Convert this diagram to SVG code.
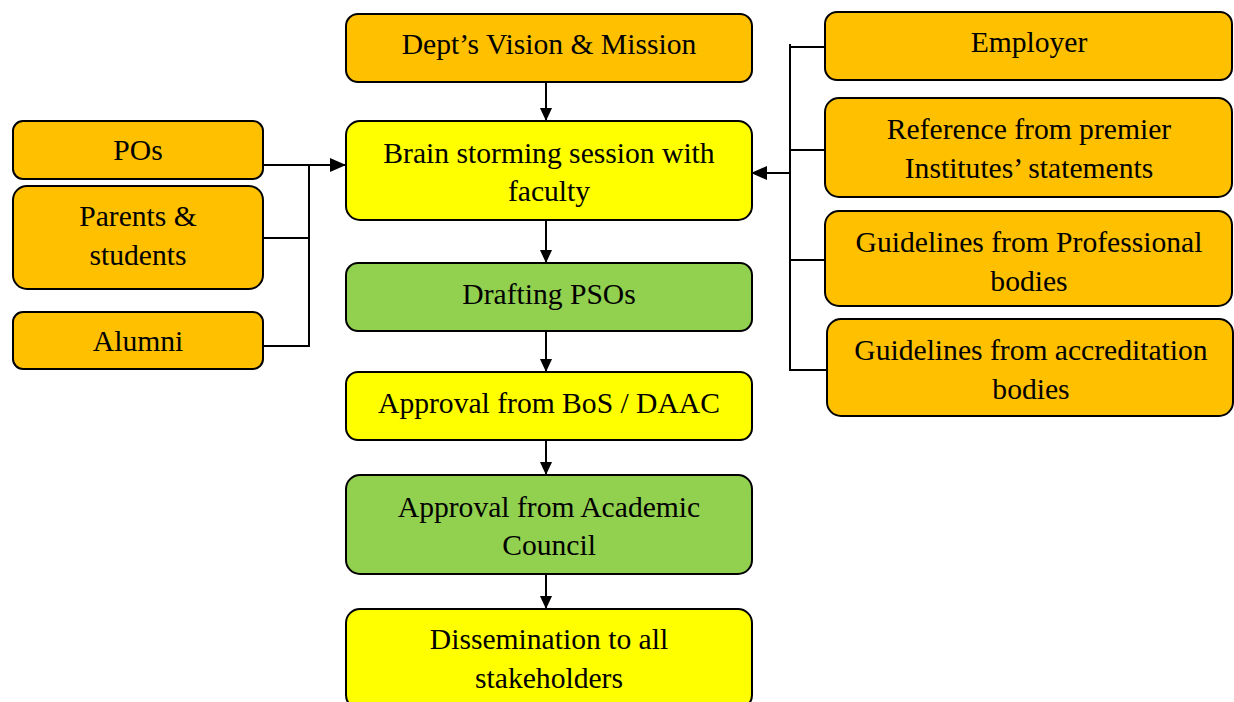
<svg xmlns="http://www.w3.org/2000/svg" width="1234" height="702" viewBox="0 0 1234 702">
<defs>
<style>
.box{stroke:#000;stroke-width:2}
.o{fill:#FFC000}.y{fill:#FFFF00}.g{fill:#92D050}
text{font-family:"Liberation Serif","Times New Roman",serif;font-size:29.6px;fill:#000;text-anchor:middle}
.ln{stroke:#000;stroke-width:2;fill:none}
</style>
<marker id="ah" markerWidth="13" markerHeight="14" refX="14" refY="6.5" orient="auto" markerUnits="userSpaceOnUse" viewBox="0 0 14 13"><path d="M0,0 L14,6.5 L0,13 z" fill="#000"/></marker>
<marker id="ah2" markerWidth="16" markerHeight="14" refX="15" refY="7" orient="auto" markerUnits="userSpaceOnUse" viewBox="0 0 16 14"><path d="M0,0 L16,7 L0,14 z" fill="#000"/></marker>
</defs>
<rect width="1234" height="702" fill="#fff"/>
<g id="connectors">
<line class="ln" x1="546" y1="82" x2="546" y2="121" marker-end="url(#ah)"/>
<line class="ln" x1="546" y1="220" x2="546" y2="263" marker-end="url(#ah)"/>
<line class="ln" x1="546" y1="331" x2="546" y2="372" marker-end="url(#ah)"/>
<line class="ln" x1="546" y1="440" x2="546" y2="475" marker-end="url(#ah)"/>
<line class="ln" x1="546" y1="574" x2="546" y2="609" marker-end="url(#ah)"/>
<polyline class="ln" points="261,165 345,165" marker-end="url(#ah2)"/>
<polyline class="ln" points="309,165 309,346 263,346"/>
<line class="ln" x1="263" y1="238" x2="309" y2="238"/>
<polyline class="ln" points="825,47 790,47 790,370 827,370"/>
<line class="ln" x1="790" y1="44" x2="790" y2="47"/>
<line class="ln" x1="790" y1="150" x2="825" y2="150"/>
<line class="ln" x1="790" y1="260" x2="825" y2="260"/>
<line class="ln" x1="790" y1="173" x2="752" y2="173" marker-end="url(#ah2)"/>
</g>
<g id="dept"><rect class="box o" x="346" y="14" width="406" height="68" rx="12"/><text x="549" y="54">Dept’s Vision &amp; Mission</text></g>
<g id="brain"><rect class="box y" x="346" y="121" width="406" height="99" rx="14"/><text x="549" y="163">Brain storming session with</text><text x="549" y="201">faculty</text></g>
<g id="drafting"><rect class="box g" x="346" y="263" width="406" height="68" rx="12"/><text x="549" y="304">Drafting PSOs</text></g>
<g id="bos"><rect class="box y" x="346" y="372" width="406" height="68" rx="12"/><text x="549" y="413">Approval from BoS / DAAC</text></g>
<g id="academic"><rect class="box g" x="346" y="475" width="406" height="99" rx="14"/><text x="549" y="517">Approval from Academic</text><text x="549" y="555">Council</text></g>
<g id="dissemination"><rect class="box y" x="346" y="609" width="406" height="100" rx="14"/><text x="549" y="649">Dissemination to all</text><text x="549" y="688">stakeholders</text></g>
<g id="pos"><rect class="box o" x="13" y="121" width="250" height="58" rx="10"/><text x="138" y="160">POs</text></g>
<g id="parents"><rect class="box o" x="13" y="186" width="250" height="103" rx="14"/><text x="138" y="226">Parents &amp;</text><text x="138" y="265">students</text></g>
<g id="alumni"><rect class="box o" x="13" y="312" width="250" height="57" rx="10"/><text x="138" y="351">Alumni</text></g>
<g id="employer"><rect class="box o" x="825" y="12" width="407" height="68" rx="12"/><text x="1029" y="52">Employer</text></g>
<g id="reference"><rect class="box o" x="825" y="98" width="407" height="99" rx="14"/><text x="1029" y="139">Reference from premier</text><text x="1029" y="178">Institutes’ statements</text></g>
<g id="professional"><rect class="box o" x="825" y="211" width="407" height="95" rx="14"/><text x="1029" y="252">Guidelines from Professional</text><text x="1029" y="291">bodies</text></g>
<g id="accreditation"><rect class="box o" x="827" y="319" width="406" height="97" rx="14"/><text x="1031" y="360">Guidelines from accreditation</text><text x="1031" y="399">bodies</text></g>
</svg>
